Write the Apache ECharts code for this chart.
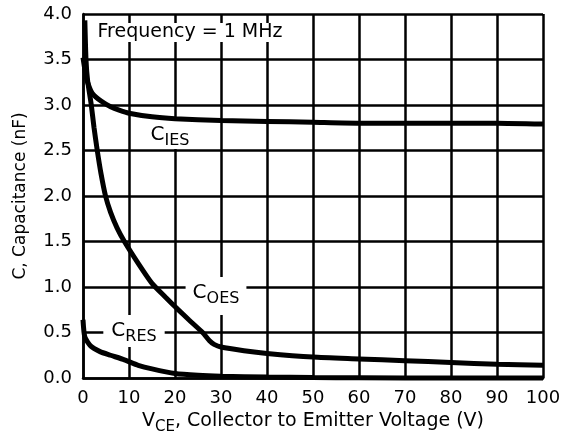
<!DOCTYPE html>
<html><head><meta charset="utf-8">
<script src="https://cdn.jsdelivr.net/npm/echarts@6/dist/echarts.min.js"></script>
<style>html,body{margin:0;padding:0;background:#fff}#c{width:565px;height:442px}</style>
</head><body><div id="c"></div>
<script>
// x: V_CE (V), y: capacitance (nF)
const cIes = [[0,3.52],[0.5,3.36],[1,3.25],[2,3.13],[4,3.04],[6,2.98],[8,2.94],[10,2.91],[15,2.87],[20,2.85],[30,2.83],[40,2.82],[50,2.81],[60,2.80],[70,2.80],[80,2.80],[90,2.80],[100,2.79]];
const cOes = [[0.4,3.93],[0.65,3.5],[1.0,3.27],[1.8,3.0],[2.4,2.75],[3.1,2.5],[3.9,2.25],[4.9,2.0],[6.0,1.82],[7.4,1.65],[9.0,1.5],[12,1.26],[15,1.04],[18,0.885],[20.5,0.76],[23,0.64],[26,0.5],[27.5,0.41],[28.5,0.37],[30,0.34],[35,0.30],[40,0.27],[50,0.23],[60,0.21],[70,0.19],[80,0.17],[90,0.15],[100,0.14]];
const cRes = [[0,0.64],[0.4,0.45],[1.7,0.35],[3.7,0.29],[6,0.25],[9,0.2],[12,0.14],[15,0.1],[20,0.05],[25,0.03],[30,0.02],[40,0.01],[50,0.005],[60,0.003],[80,0.0],[100,0.0]];
const xMin = 0, xMax = 100, xStep = 10;
const yMin = 0, yMax = 4, yStep = 0.5;
const FONT = 'DejaVu Sans';

const chart = echarts.init(document.getElementById('c'), null, {renderer: 'canvas'});
const lineStyle = {color: '#000', width: 5};
const subRich = {
  m: {fontFamily: FONT, fontSize: 20, color: '#000'},
  s: {fontFamily: FONT, fontSize: 16, color: '#000', padding: [12, 0, 0, 0]}
};
function label(x, y, main, sub, pad) {
  return {
    type: 'text', x: x, y: y, z: 1,
    style: {
      text: '{m|' + main + '}{s|' + sub + '}',
      rich: subRich, align: 'center', verticalAlign: 'middle',
      backgroundColor: '#fff', padding: pad
    }
  };
}
chart.setOption({
  animation: false,
  backgroundColor: '#fff',
  grid: {left: 83, right: 22, top: 14, bottom: 64},
  xAxis: {
    type: 'value', min: xMin, max: xMax, interval: xStep,
    axisLine: {lineStyle: {color: '#000', width: 2.5}},
    axisTick: {show: false},
    splitLine: {lineStyle: {color: '#000', width: 2.5}},
    axisLabel: {color: '#000', fontFamily: FONT, fontSize: 18, margin: 11},
    name: '{m|V}{s|CE}{m|, Collector to Emitter Voltage (V)}',
    nameLocation: 'middle', nameGap: 26,
    nameTextStyle: {rich: {
      m: {fontFamily: FONT, fontSize: 19, color: '#000'},
      s: {fontFamily: FONT, fontSize: 15, color: '#000', padding: [11, 0, 0, 0]}
    }}
  },
  yAxis: {
    type: 'value', min: yMin, max: yMax, interval: yStep,
    axisLine: {lineStyle: {color: '#000', width: 2.5}},
    axisTick: {show: false},
    splitLine: {lineStyle: {color: '#000', width: 2.5}},
    axisLabel: {color: '#000', fontFamily: FONT, fontSize: 18, margin: 11,
      formatter: v => v.toFixed(1)},
    name: 'C, Capacitance (nF)', nameLocation: 'middle', nameGap: 54,
    nameTextStyle: {fontFamily: FONT, fontSize: 17, color: '#000'}
  },
  series: [
    {type: 'line', data: cIes, smooth: 0.2, showSymbol: false, lineStyle: lineStyle, z: 3},
    {type: 'line', data: cOes, smooth: 0.2, showSymbol: false, lineStyle: lineStyle, z: 3},
    {type: 'line', data: cRes, smooth: 0.2, showSymbol: false, lineStyle: lineStyle, z: 3, clip: false}
  ],
  graphic: [
    {type: 'text', x: 190, y: 32.5, z: 1,
      style: {text: 'Frequency = 1 MHz', fontFamily: FONT, fontSize: 19, fill: '#000',
        align: 'center', verticalAlign: 'middle', backgroundColor: '#fff', padding: [0, 8]}},
    label(170, 135, 'C', 'IES', [0, 7]),
    label(216, 296, 'C', 'OES', [2, 7, 8, 7]),
    label(134, 331, 'C', 'RES', [2, 8])
  ]
});
</script></body></html>
